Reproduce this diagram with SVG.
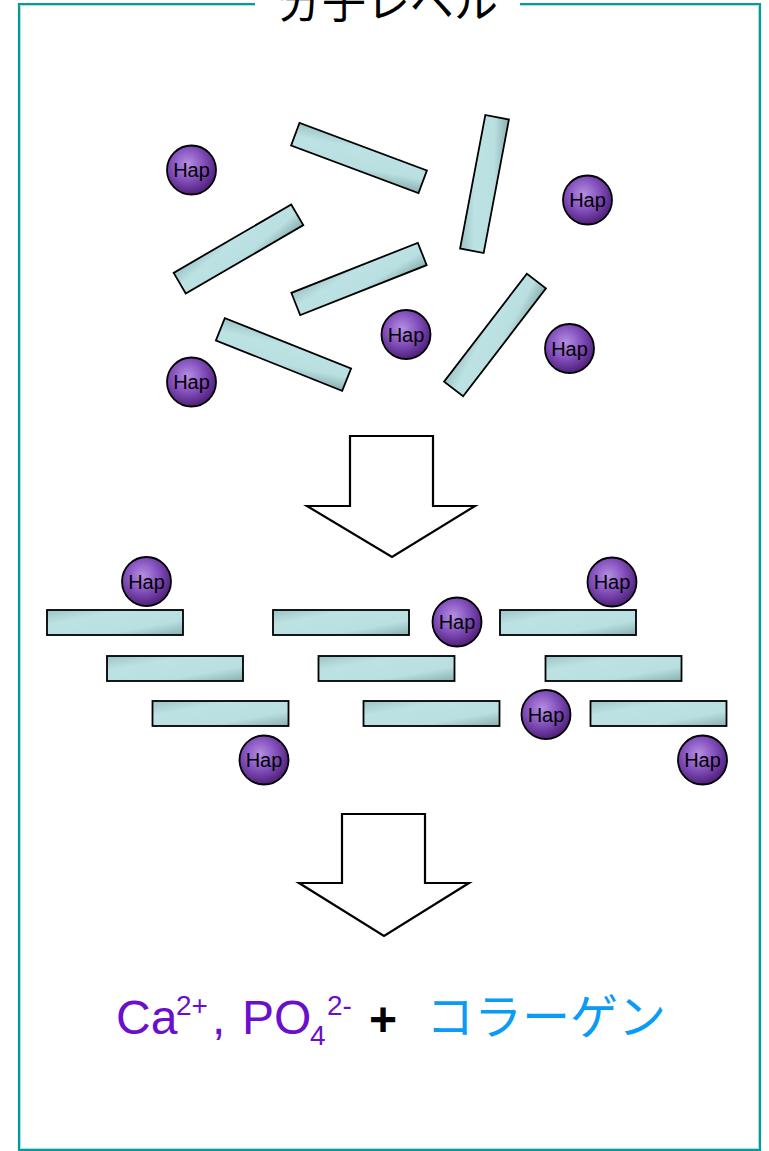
<svg xmlns="http://www.w3.org/2000/svg" width="769" height="1151" viewBox="0 0 769 1151">
  <defs>
    <radialGradient id="hapFill" cx="0.42" cy="0.38" r="0.6">
      <stop offset="0" stop-color="#b590e2"/>
      <stop offset="0.55" stop-color="#8350bd"/>
      <stop offset="1" stop-color="#55237f"/>
    </radialGradient>
    <linearGradient id="rodFill" x1="0" y1="0" x2="1" y2="1">
      <stop offset="0" stop-color="#9cc4c5"/>
      <stop offset="0.3" stop-color="#bde2e4"/>
      <stop offset="0.7" stop-color="#b9dfe1"/>
      <stop offset="1" stop-color="#8aafaf"/>
    </linearGradient>
    <style>
      .frame { fill: none; stroke: #069a9a; stroke-width: 2.2; }
      .frame-in { fill: none; stroke: #a6dcdc; stroke-width: 1; }
      .rod { fill: url(#rodFill); stroke: #000; stroke-width: 1.8; }
      .hap circle { fill: url(#hapFill); stroke: #000; stroke-width: 1.8; }
      .hap text { font-family: "Liberation Sans", Arial, sans-serif; font-size: 20px; fill: #000; text-anchor: middle; }
      .arrow { fill: #fff; stroke: #000; stroke-width: 2.2; stroke-linejoin: miter; }
      .title { font-family: "Noto Sans CJK JP", "Noto Sans CJK SC", sans-serif; font-size: 44px; fill: #000; text-anchor: middle; }
      .formula { font-family: "Liberation Sans", Arial, sans-serif; fill: #6a0fcc; }
      .plus { font-family: "Liberation Sans", Arial, sans-serif; font-weight: bold; fill: #000; }
      .collagen { font-family: "Noto Sans CJK JP", "Noto Sans CJK SC", sans-serif; fill: #0a9cf5; }
    </style>
  </defs>

  <!-- outer frame with a break for the heading -->
  <g id="frame">
    <path class="frame" d="M255,4 H19 V1150 H760 V4 H520"/>
    <path class="frame-in" d="M255,5.6 H20.6 V1148.4 H758.4 V5.6 H520"/>
    <text class="title" x="388" y="18">分子レベル</text>
  </g>

  <!-- scattered collagen rods -->
  <g id="rod-a"><rect class="rod" x="-68" y="-12" width="136" height="24" transform="translate(359,158) rotate(20.5)"/></g>
  <g id="rod-b"><rect class="rod" x="-68" y="-12" width="136" height="24" transform="translate(238.5,249) rotate(-30.2)"/></g>
  <g id="rod-c"><rect class="rod" x="-68" y="-12" width="136" height="24" transform="translate(359,279) rotate(-21.6)"/></g>
  <g id="rod-d"><rect class="rod" x="-68" y="-12" width="136" height="24" transform="translate(484.5,184) rotate(-79.3)"/></g>
  <g id="rod-e"><rect class="rod" x="-68" y="-12" width="136" height="24" transform="translate(495,335) rotate(-52.5)"/></g>
  <g id="rod-f"><rect class="rod" x="-68" y="-12" width="136" height="24" transform="translate(283.5,354.5) rotate(21.8)"/></g>

  <!-- scattered hydroxyapatite -->
  <g id="hap-1" class="hap"><circle cx="191.5" cy="170" r="24.5"/><text x="191.5" y="177">Hap</text></g>
  <g id="hap-2" class="hap"><circle cx="587.5" cy="200" r="24.5"/><text x="587.5" y="207">Hap</text></g>
  <g id="hap-3" class="hap"><circle cx="406" cy="334.5" r="24.5"/><text x="406" y="341.5">Hap</text></g>
  <g id="hap-4" class="hap"><circle cx="569.5" cy="348.5" r="24.5"/><text x="569.5" y="355.5">Hap</text></g>
  <g id="hap-5" class="hap"><circle cx="191.5" cy="382" r="24.5"/><text x="191.5" y="389">Hap</text></g>

  <!-- ordered rods -->
  <g id="rod-r1a"><rect class="rod" x="47" y="610" width="136" height="25"/></g>
  <g id="rod-r1b"><rect class="rod" x="273" y="610" width="136" height="25"/></g>
  <g id="rod-r1c"><rect class="rod" x="500" y="610" width="136" height="25"/></g>
  <g id="rod-r2a"><rect class="rod" x="107" y="656" width="136" height="25"/></g>
  <g id="rod-r2b"><rect class="rod" x="318.5" y="656" width="136" height="25"/></g>
  <g id="rod-r2c"><rect class="rod" x="545.5" y="656" width="136" height="25"/></g>
  <g id="rod-r3a"><rect class="rod" x="152.5" y="701" width="136" height="25"/></g>
  <g id="rod-r3b"><rect class="rod" x="363.5" y="701" width="136" height="25"/></g>
  <g id="rod-r3c"><rect class="rod" x="590.5" y="701" width="136" height="25"/></g>

  <!-- ordered hydroxyapatite -->
  <g id="hap-6" class="hap"><circle cx="146.5" cy="581.5" r="24.5"/><text x="146.5" y="588.5">Hap</text></g>
  <g id="hap-7" class="hap"><circle cx="612" cy="582" r="24.5"/><text x="612" y="589">Hap</text></g>
  <g id="hap-8" class="hap"><circle cx="457" cy="622" r="24.5"/><text x="457" y="629">Hap</text></g>
  <g id="hap-9" class="hap"><circle cx="546" cy="714.5" r="24.5"/><text x="546" y="721.5">Hap</text></g>
  <g id="hap-10" class="hap"><circle cx="264" cy="760" r="24.5"/><text x="264" y="767">Hap</text></g>
  <g id="hap-11" class="hap"><circle cx="702.5" cy="760" r="24.5"/><text x="702.5" y="767">Hap</text></g>

  <!-- block arrows between stages -->
  <g id="connectors">
    <polygon class="arrow" points="350,436 433,436 433,506 475,506 392,557 307,506 350,506"/>
    <polygon class="arrow" points="342,814 425,814 425,883 469,883 384,936 299,883 342,883"/>
  </g>

  <!-- components -->
  <g id="components">
    <text class="formula" font-size="48" x="116" y="1034">Ca</text>
    <text class="formula" font-size="28" x="176" y="1015">2+</text>
    <text class="formula" font-size="48" x="212" y="1034">,</text>
    <text class="formula" font-size="48" x="242" y="1034">PO</text>
    <text class="formula" font-size="28" x="310" y="1045">4</text>
    <text class="formula" font-size="28" x="327" y="1015">2-</text>
    <text class="plus" font-size="48" x="369" y="1036">+</text>
    <text class="collagen" font-size="48" x="426" y="1034">コラーゲン</text>
  </g>
</svg>
